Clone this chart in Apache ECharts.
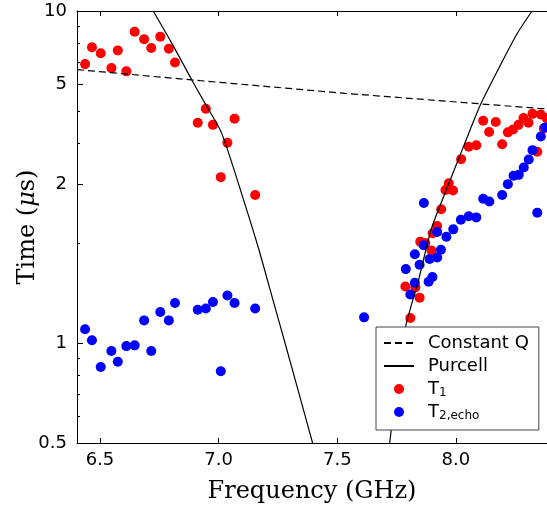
<!DOCTYPE html>
<html>
<head>
<meta charset="utf-8">
<script src="https://cdn.jsdelivr.net/npm/echarts@6/dist/echarts.min.js"></script>
<style>
  html, body { margin: 0; padding: 0; background: #fff; }
  #chart { width: 547px; height: 510px; }
</style>
</head>
<body>
<div id="chart"></div>
<script>
// frequency in GHz, time in microseconds
var t1Freq = [6.437, 6.466, 6.503, 6.548, 6.575, 6.611, 6.646, 6.686, 6.716, 6.754, 6.790, 6.816,
  6.912, 6.946, 6.976, 7.009, 7.037, 7.067, 7.154,
  7.787, 7.808, 7.829, 7.847, 7.850, 7.871, 7.897, 7.902, 7.921, 7.938, 7.956, 7.970, 7.988,
  8.022, 8.054, 8.086, 8.115, 8.140, 8.168, 8.195, 8.219, 8.241, 8.264, 8.285, 8.306, 8.323,
  8.343, 8.358, 8.371, 8.382];
var t1Time = [6.92, 7.78, 7.46, 6.73, 7.61, 6.58, 8.66, 8.22, 7.74, 8.37, 7.70, 7.00,
  4.61, 5.08, 4.54, 3.16, 4.01, 4.74, 2.79,
  1.48, 1.19, 1.47, 1.37, 2.02, 2.00, 1.90, 2.14, 2.25, 2.53, 2.89, 3.03, 2.88,
  3.58, 3.90, 3.94, 4.67, 4.32, 4.63, 3.97, 4.31, 4.40, 4.54, 4.76, 4.61, 4.90,
  3.77, 4.88, 4.43, 4.76];

var t2Freq = [6.437, 6.466, 6.503, 6.548, 6.575, 6.611, 6.646, 6.686, 6.716, 6.754, 6.790, 6.816,
  6.912, 6.946, 6.976, 7.009, 7.037, 7.067, 7.154, 7.613,
  7.789, 7.808, 7.827, 7.827, 7.847, 7.864, 7.865, 7.885, 7.889, 7.901, 7.921, 7.921, 7.937,
  7.960, 7.989, 8.021, 8.054, 8.086, 8.115, 8.141, 8.195, 8.219, 8.243, 8.265, 8.286, 8.307,
  8.323, 8.343, 8.358, 8.376];
var t2Time = [1.10, 1.02, 0.847, 0.946, 0.878, 0.979, 0.984, 1.17, 0.946, 1.24, 1.17, 1.32,
  1.26, 1.27, 1.33, 0.822, 1.39, 1.32, 1.27, 1.195,
  1.67, 1.40, 1.52, 1.85, 1.72, 1.97, 2.64, 1.53, 1.79, 1.58, 1.81, 2.16, 1.91,
  2.09, 2.20, 2.35, 2.41, 2.39, 2.72, 2.67, 2.79, 3.01, 3.19, 3.21, 3.38, 3.57,
  3.81, 2.47, 4.19, 4.46];

var constQFreq = [6.403, 6.922, 7.531, 8.349, 8.384];
var constQTime = [6.66, 6.17, 5.65, 5.09, 5.08];

var purcellLowFreq = [6.724, 6.80, 6.887, 6.95, 7.013, 7.105, 7.168, 7.23, 7.288, 7.34, 7.396];
var purcellLowTime = [10.0, 8.06, 6.20, 5.16, 4.28, 2.70, 1.93, 1.34, 0.953, 0.699, 0.5];
var purcellHighFreq = [7.721, 7.751, 7.788, 7.843, 7.895, 7.943, 8.026, 8.103, 8.184, 8.259, 8.319];
var purcellHighTime = [0.5, 0.75, 1.12, 1.55, 2.19, 2.70, 3.81, 5.21, 6.79, 8.57, 9.95];

var xTicks = [6.5, 7.0, 7.5, 8.0];
var yTickAt = [0.5, 1, 3, 6, 10];
var yTickLabels = ['0.5', '1', '2', '5', '10'];
var yMinorAt = [0.6, 0.7, 0.8, 0.9, 2, 4, 5, 7, 8, 9];

var lg = function (v) { return Math.log10(v); };
function pairs(fs, ts) {
  return fs.map(function (f, i) { return [f, lg(ts[i])]; });
}

var yMin = lg(0.5), yMax = 1;
var chart = echarts.init(document.getElementById('chart'));

var option = {
  animation: false,
  backgroundColor: '#fff',
  grid: { left: 77, right: 0, top: 11, bottom: 67, outerBoundsMode: 'none' },
  legend: {
    orient: 'vertical',
    left: 376,
    top: 327,
    data: [
      { name: 'Constant Q', itemStyle: { opacity: 0 } },
      { name: 'Purcell', itemStyle: { opacity: 0 } },
      'T1',
      'T2,echo'
    ],
    selectedMode: false,
    backgroundColor: '#fff',
    borderColor: '#444',
    borderWidth: 1,
    borderRadius: 0,
    padding: [6, 10, 8, 7],
    itemGap: 3,
    itemWidth: 30,
    itemHeight: 10,
    textStyle: {
      fontFamily: 'DejaVu Sans', fontSize: 18, color: '#000', lineHeight: 20,
      padding: [0, 0, 0, 9],
      rich: {
        m: { fontFamily: 'DejaVu Sans', fontSize: 18, lineHeight: 20, color: '#000' },
        s: { fontFamily: 'DejaVu Sans', fontSize: 12, lineHeight: 20, color: '#000', verticalAlign: 'bottom' }
      }
    },
    formatter: function (name) {
      if (name === 'T1') return '{m|T}{s|1}';
      if (name === 'T2,echo') return '{m|T}{s|2,echo}';
      return name;
    }
  },
  xAxis: [{
    type: 'value',
    position: 'bottom',
    min: 6.403,
    max: 8.384,
    axisLine: { show: true, onZero: false, lineStyle: { color: '#000', width: 1 } },
    axisTick: { show: true, inside: true, length: 5, customValues: xTicks, lineStyle: { color: '#000' } },
    axisLabel: {
      customValues: xTicks, margin: 8, color: '#000', fontFamily: 'DejaVu Sans', fontSize: 18,
      formatter: function (v) { return v.toFixed(1); }
    },
    splitLine: { show: false },
    name: 'Frequency (GHz)',
    nameLocation: 'middle',
    nameGap: 37,
    nameMoveOverlap: false,
    nameTextStyle: { fontFamily: 'DejaVu Serif', fontSize: 24, color: '#000' }
  }, {
    type: 'value',
    position: 'top',
    min: 6.403,
    max: 8.384,
    axisLine: { show: true, onZero: false, lineStyle: { color: '#000', width: 1 } },
    axisTick: { show: true, inside: true, length: 5, customValues: xTicks, lineStyle: { color: '#000' } },
    axisLabel: { show: false },
    splitLine: { show: false }
  }],
  yAxis: [{
    type: 'value',
    position: 'left',
    min: yMin,
    max: yMax,
    axisLine: { show: true, onZero: false, lineStyle: { color: '#000', width: 1 } },
    axisTick: { show: true, inside: true, length: 6, customValues: yTickAt.map(lg), lineStyle: { color: '#000' } },
    axisLabel: {
      customValues: yTickAt.map(lg), margin: 10, color: '#000', fontFamily: 'DejaVu Sans', fontSize: 18,
      formatter: function (v) {
        for (var i = 0; i < yTickAt.length; i++) {
          if (Math.abs(lg(yTickAt[i]) - v) < 1e-6) return yTickLabels[i];
        }
        return '';
      }
    },
    splitLine: { show: false },
    name: 'Time ({i|μ}s)',
    nameLocation: 'middle',
    nameGap: 37,
    nameMoveOverlap: false,
    nameTextStyle: {
      fontFamily: 'DejaVu Serif', fontSize: 24, color: '#000',
      rich: { i: { fontFamily: 'DejaVu Serif', fontStyle: 'italic', fontSize: 24, color: '#000' } }
    }
  }, {
    type: 'value',
    position: 'left',
    min: yMin,
    max: yMax,
    axisLine: { show: false, onZero: false },
    axisTick: { show: true, inside: true, length: 3, customValues: yMinorAt.map(lg), lineStyle: { color: '#000' } },
    axisLabel: { show: false },
    splitLine: { show: false }
  }],
  series: [{
    name: 'Constant Q',
    type: 'line',
    data: pairs(constQFreq, constQTime),
    symbol: 'none',
    z: 3,
    lineStyle: { color: '#000', width: 1.2, type: [7, 4] }
  }, {
    name: 'Purcell',
    type: 'line',
    data: pairs(purcellLowFreq, purcellLowTime),
    symbol: 'none',
    smooth: 0.25,
    z: 3,
    lineStyle: { color: '#000', width: 1.2 }
  }, {
    name: 'Purcell',
    type: 'line',
    data: pairs(purcellHighFreq, purcellHighTime),
    symbol: 'none',
    smooth: 0.25,
    z: 3,
    lineStyle: { color: '#000', width: 1.2 }
  }, {
    name: 'T1',
    type: 'scatter',
    data: pairs(t1Freq, t1Time),
    symbolSize: 10,
    itemStyle: { color: '#ff0000', opacity: 1 }
  }, {
    name: 'T2,echo',
    type: 'scatter',
    data: pairs(t2Freq, t2Time),
    symbolSize: 10,
    itemStyle: { color: '#0000ff', opacity: 1 }
  }]
};

chart.setOption(option);
</script>
</body>
</html>
